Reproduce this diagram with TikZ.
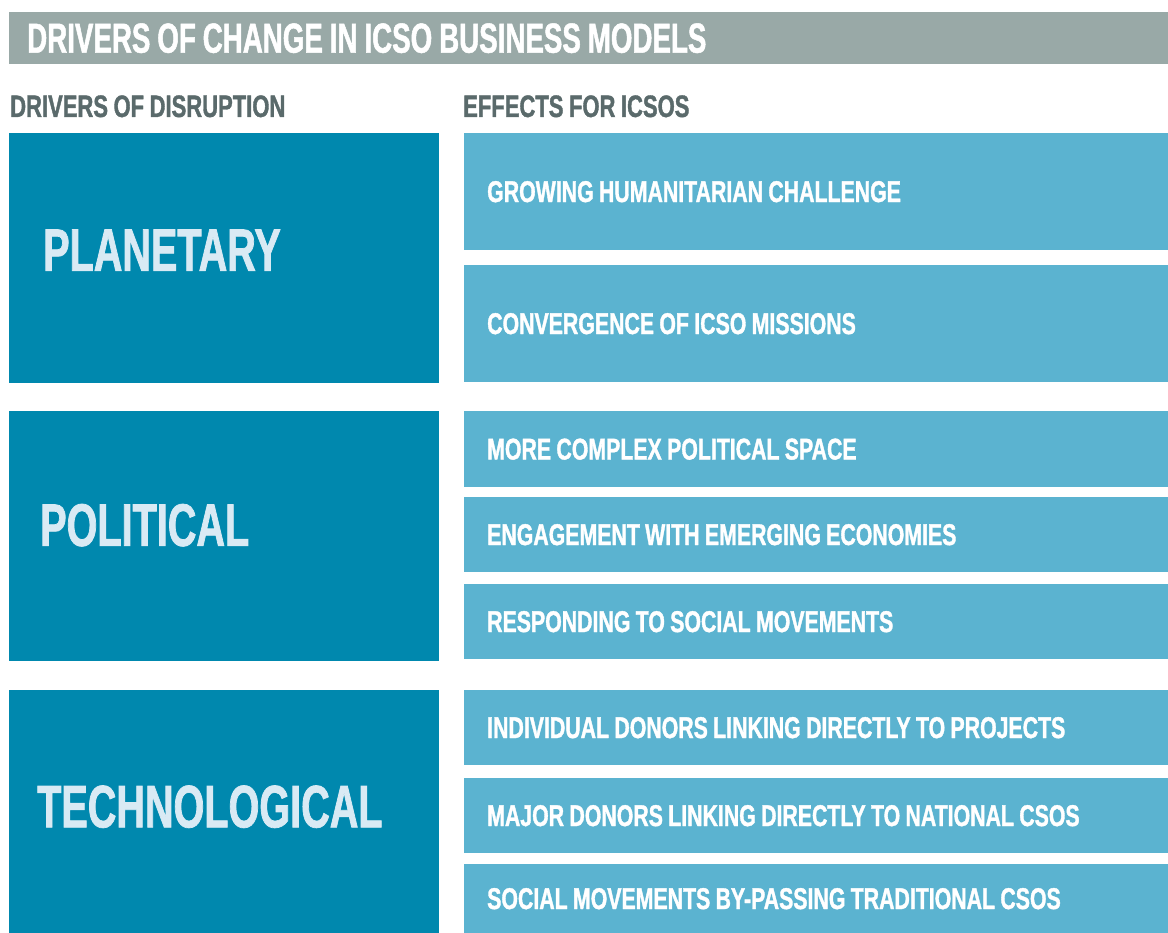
\documentclass[tikz,border=0pt]{standalone}
\usepackage{fontspec}
\newfontfamily\condfont[FakeStretch=0.66,FakeBold=1.2,WordSpace=0.9]{Liberation Sans Bold}
\newfontfamily\narrowfont[FakeStretch=0.71,FakeBold=1.2,WordSpace=0.9]{Liberation Sans Bold}
\definecolor{titlegrey}{HTML}{99A9A7}
\definecolor{headgrey}{HTML}{5A6A6B}
\definecolor{drvblue}{HTML}{0088AE}
\definecolor{effblue}{HTML}{5BB3D0}
\definecolor{drvtext}{HTML}{D9EAF4}
\tikzset{
  titlebar/.style={anchor=north west, fill=titlegrey, text=white, inner xsep=18pt, inner ysep=0pt,
    minimum height=52pt, font=\condfont\fontsize{42}{42}\selectfont},
  subhead/.style={anchor=base west, inner sep=0pt, text=headgrey, font=\narrowfont\fontsize{31}{31}\selectfont},
  drvbox/.style={anchor=north west, fill=drvblue, inner sep=0pt, minimum width=430pt},
  drvlabel/.style={anchor=west, inner sep=0pt, text=drvtext, font=\condfont\fontsize{60}{60}\selectfont},
  effbox/.style={anchor=north west, fill=effblue, text=white, inner xsep=23pt, inner ysep=0pt,
    font=\narrowfont\fontsize{30}{30}\selectfont}
}
\begin{document}
\begin{tikzpicture}[x=1pt,y=-1pt]
  \useasboundingbox (0,0) rectangle (1168,933);
  \node[titlebar] (title) at (9,12) {\makebox[1123pt][l]{DRIVERS OF CHANGE IN ICSO BUSINESS MODELS}};
  \node[subhead] (drvhead) at (10,117) {DRIVERS OF DISRUPTION};
  \node[subhead] (effhead) at (463,117) {EFFECTS FOR ICSOS};

  % drivers
  \node[drvbox, minimum height=250pt] (planet) at (9,133) {};
  \node[drvbox, minimum height=250pt] (polit) at (9,411) {};
  \node[drvbox, minimum height=243pt] (techno) at (9,690) {};
  \node[drvlabel] (planetlbl) at ([xshift=34pt,yshift=8pt]planet.west) {PLANETARY};
  \node[drvlabel] (politlbl) at ([xshift=31pt,yshift=11pt]polit.west) {POLITICAL};
  \node[drvlabel] (technolbl) at ([xshift=28pt,yshift=5pt]techno.west) {TECHNOLOGICAL};

  % effects
  \foreach \yt/\h/\name/\txt in {
      133/117/humchal/GROWING HUMANITARIAN CHALLENGE,
      265/117/convmis/CONVERGENCE OF ICSO MISSIONS,
      411/76/polspace/MORE COMPLEX POLITICAL SPACE,
      497/75/emecon/ENGAGEMENT WITH EMERGING ECONOMIES,
      584/75/socmov/RESPONDING TO SOCIAL MOVEMENTS,
      690/75/inddon/INDIVIDUAL DONORS LINKING DIRECTLY TO PROJECTS,
      778/75/majdon/MAJOR DONORS LINKING DIRECTLY TO NATIONAL CSOS,
      864/69/bypass/SOCIAL MOVEMENTS BY-PASSING TRADITIONAL CSOS}
    \node[effbox, minimum height=\h pt] (\name) at (464,\yt) {\makebox[658pt][l]{\txt}};
\end{tikzpicture}
\end{document}
